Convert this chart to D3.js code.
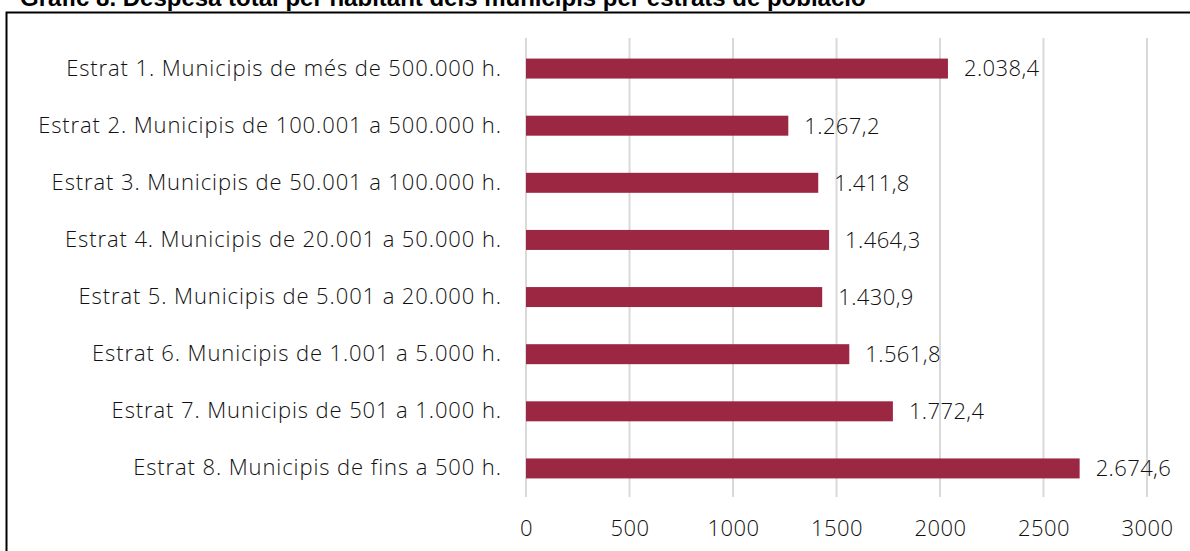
<!DOCTYPE html>
<html>
<head>
<meta charset="utf-8">
<script src="https://cdn.jsdelivr.net/npm/d3@7"></script>
<style>
  body { margin: 0; background: #fff; }
  text { font-family: "Open Sans", "Liberation Sans", sans-serif; }
</style>
</head>
<body>
<div class="container"></div>
<script>
// data
const categories = [
  'Estrat 1. Municipis de més de 500.000 h.',
  'Estrat 2. Municipis de 100.001 a 500.000 h.',
  'Estrat 3. Municipis de 50.001 a 100.000 h.',
  'Estrat 4. Municipis de 20.001 a 50.000 h.',
  'Estrat 5. Municipis de 5.001 a 20.000 h.',
  'Estrat 6. Municipis de 1.001 a 5.000 h.',
  'Estrat 7. Municipis de 501 a 1.000 h.',
  'Estrat 8. Municipis de fins a 500 h.'
];
const values = [2038.4, 1267.2, 1411.8, 1464.3, 1430.9, 1561.8, 1772.4, 2674.6];
const ticks = [0, 500, 1000, 1500, 2000, 2500, 3000];
const title = 'Gràfic 8. Despesa total per habitant dels municipis per estrats de població';

const w = 1190;
const h = 551;

const svg = d3.select('.container')
              .append('svg')
              .attr('width', w)
              .attr('height', h);

// title, cut at the top like the source
svg.append('text')
   .attr('x', 20)
   .attr('y', 6)
   .style('font-family', '"Liberation Sans", Arial, sans-serif')
   .style('font-size', '24px')
   .style('font-weight', 'bold')
   .attr('fill', '#000')
   .text(title);

// frame
svg.append('path')
   .attr('d', `M6.5,${h + 2} V12.5 H${w + 2}`)
   .attr('fill', 'none')
   .attr('stroke', '#000')
   .attr('stroke-width', 2);

const x = d3.scaleLinear()
            .domain([0, 3000])
            .range([526, 1147]);

const y = d3.scaleBand()
            .domain(categories)
            .range([40, 497])
            .paddingInner(0.65)
            .paddingOuter(0.325);

const locale = d3.formatLocale({decimal: ',', thousands: '.', grouping: [3], currency: ['', '€']});
const fmt = locale.format(',.1f');

const textStyle = sel => sel
  .attr('font-size', 22)
  .attr('font-weight', 300)
  .attr('font-family', null)
  .attr('letter-spacing', 0.9)
  .attr('fill', '#111');

// gridlines
svg.append('g')
   .selectAll('line')
   .data(ticks)
   .join('line')
   .attr('x1', d => x(d))
   .attr('x2', d => x(d))
   .attr('y1', 38)
   .attr('y2', 497)
   .attr('stroke', '#d9d9d9')
   .attr('stroke-width', 2);

// bars
svg.append('g')
   .selectAll('rect')
   .data(values)
   .join('rect')
   .attr('x', x(0))
   .attr('y', (d, i) => y(categories[i]))
   .attr('width', d => x(d) - x(0))
   .attr('height', y.bandwidth())
   .attr('fill', '#9c2743');

// value labels
svg.append('g')
   .selectAll('text')
   .data(values)
   .join('text')
   .attr('x', d => x(d) + 16)
   .attr('y', (d, i) => y(categories[i]) + y.bandwidth() / 2)
   .attr('dy', '0.36em')
   .call(textStyle)
   .attr('letter-spacing', 0.4)
   .text(d => fmt(d));

// category axis
const yAxis = d3.axisLeft(y).tickSize(0).tickPadding(0);
const yGroup = svg.append('g')
                  .attr('transform', `translate(501, 0)`)
                  .call(yAxis);
yGroup.select('.domain').remove();
yGroup.selectAll('text').call(textStyle).attr('dx', 0.9);

// value axis
const xAxis = d3.axisBottom(x).tickValues(ticks).tickSize(0).tickPadding(0).tickFormat(d => d);
const xGroup = svg.append('g')
                  .attr('transform', `translate(0, 520)`)
                  .call(xAxis);
xGroup.select('.domain').remove();
xGroup.selectAll('text').call(textStyle).attr('letter-spacing', 0.4);
</script>
</body>
</html>
